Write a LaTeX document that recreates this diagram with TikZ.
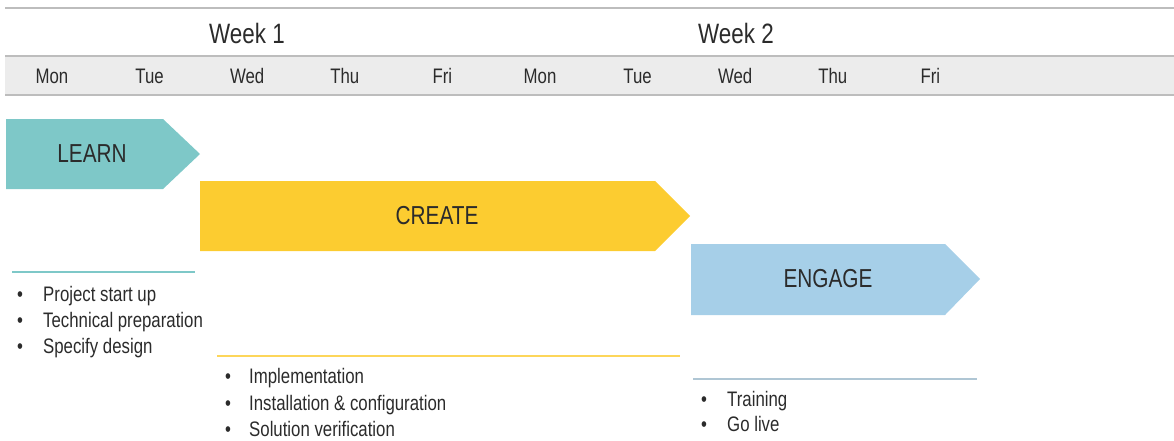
\documentclass[tikz,border=0pt]{standalone}
\usepackage{fontspec}
\setmainfont[FakeStretch=0.8]{Liberation Sans}
\definecolor{learncol}{HTML}{7EC8C8}
\definecolor{createcol}{HTML}{FCCC30}
\definecolor{engagecol}{HTML}{A6CFE8}
\definecolor{bandcol}{HTML}{ECECEC}
\definecolor{rulecol}{HTML}{BDBDBD}
\definecolor{txtcol}{HTML}{2B2B2B}
\tikzset{
  weeklbl/.style={inner sep=0pt, text=txtcol, font=\fontsize{28}{28}\selectfont},
  daylbl/.style={inner sep=0pt, text=txtcol, font=\fontsize{21}{21}\selectfont},
  phaselbl/.style={inner sep=0pt, text=txtcol, font=\fontsize{26}{26}\selectfont},
  itemlbl/.style={inner sep=0pt, anchor=base west, text=txtcol, font=\fontsize{21}{21}\selectfont},
}
\begin{document}
\begin{tikzpicture}[x=1pt,y=-1pt]
	\useasboundingbox (0,0) rectangle (1174,440);
	% calendar header
	\draw[rulecol, line width=1.5pt] (5,8) -- (1174,8);
	\fill[bandcol] (5,56) rectangle (1174,95);
	\draw[rulecol, line width=2pt] (5,56) -- (1174,56);
	\draw[rulecol, line width=2pt] (5,95) -- (1174,95);
	\node[weeklbl] (week1) at (247,33) {Week 1};
	\node[weeklbl] (week2) at (736,33) {Week 2};
	\foreach \d [count=\i from 0] in {Mon,Tue,Wed,Thu,Fri,Mon,Tue,Wed,Thu,Fri}
		\node[daylbl] (day\i) at (52+97.6*\i,76) {\d};
	% phases
	\fill[learncol] (6,119) -- (163,119) -- (200,154) -- (163,189) -- (6,189) -- cycle;
	\node[phaselbl] (learn) at (92,154) {LEARN};
	\fill[createcol] (200,181) -- (655,181) -- (690,216) -- (655,251) -- (200,251) -- cycle;
	\node[phaselbl] (create) at (437,216) {CREATE};
	\fill[engagecol] (691,244) -- (945,244) -- (980,279) -- (945,315) -- (691,315) -- cycle;
	\node[phaselbl] (engage) at (828,279) {ENGAGE};
	% activities
	\draw[learncol, line width=2.5pt] (12,272) -- (195,272);
	\foreach \t [count=\i] in {Project start up,Technical preparation,Specify design}{
		\node[itemlbl] (lbul\i) at (17,275+26*\i) {\textbullet};
		\node[itemlbl] (litem\i) at (43,275+26*\i) {\t};
	}
	\draw[createcol!80, line width=2.5pt] (217,356) -- (680,356);
	\foreach \t [count=\i] in {Implementation,Installation \& configuration,Solution verification}{
		\node[itemlbl] (cbul\i) at (225,357+26.5*\i) {\textbullet};
		\node[itemlbl] (citem\i) at (249,357+26.5*\i) {\t};
	}
	\draw[engagecol!70!gray!80, line width=2.5pt] (693,379) -- (977,379);
	\foreach \t [count=\i] in {Training,Go live}{
		\node[itemlbl] (ebul\i) at (701,381+25*\i) {\textbullet};
		\node[itemlbl] (eitem\i) at (727,381+25*\i) {\t};
	}
\end{tikzpicture}
\end{document}
